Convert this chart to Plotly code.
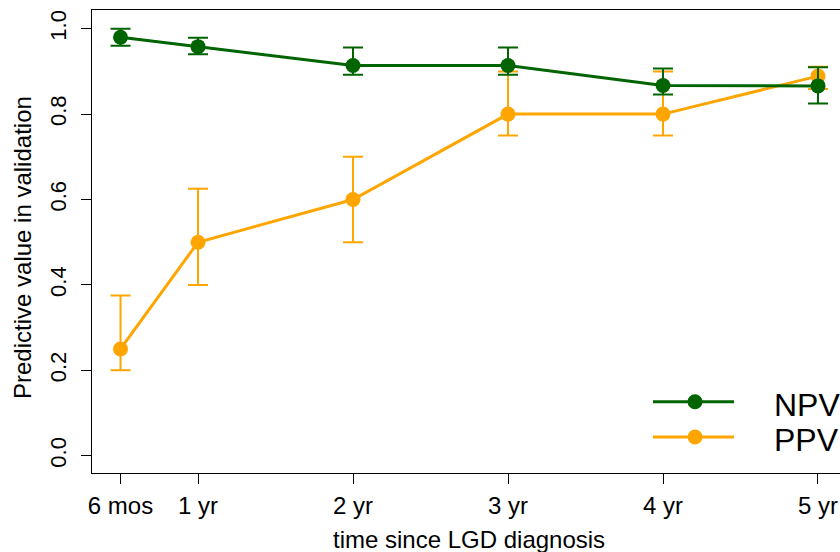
import plotly.graph_objects as go

# ---- data ----
x_vals = [0.5, 1, 2, 3, 4, 5]
x_labels = ["6 mos", "1 yr", "2 yr", "3 yr", "4 yr", "5 yr"]

npv = [0.980, 0.958, 0.914, 0.914, 0.867, 0.866]
npv_lo = [0.960, 0.940, 0.892, 0.892, 0.846, 0.825]
npv_hi = [1.000, 0.979, 0.956, 0.956, 0.907, 0.910]

ppv = [0.250, 0.500, 0.600, 0.800, 0.800, 0.889]
ppv_lo = [0.200, 0.400, 0.500, 0.750, 0.750, 0.859]
ppv_hi = [0.375, 0.625, 0.700, 0.900, 0.900, 0.911]

y_ticks = [0.0, 0.2, 0.4, 0.6, 0.8, 1.0]
y_tick_labels = ["0.0", "0.2", "0.4", "0.6", "0.8", "1.0"]

GREEN = "#006400"
ORANGE = "#FFA500"
FONT = "Liberation Sans, Arial, Helvetica, sans-serif"

W, H = 840, 552
L, R, T, B = 92, 0, 10, 79


def trace(y, lo, hi, color, name):
    return go.Scatter(
        x=x_vals, y=y, mode="lines+markers", name=name,
        line=dict(color=color, width=3),
        marker=dict(color=color, size=15),
        error_y=dict(type="data", symmetric=False,
                     array=[h - v for h, v in zip(hi, y)],
                     arrayminus=[v - l for v, l in zip(y, lo)],
                     color=color, thickness=2, width=10),
        showlegend=False, hoverinfo="skip",
    )


fig = go.Figure()
fig.add_trace(trace(ppv, ppv_lo, ppv_hi, ORANGE, "PPV"))
fig.add_trace(trace(npv, npv_lo, npv_hi, GREEN, "NPV"))

fig.update_layout(
    width=W, height=H,
    margin=dict(l=L, r=R, t=T, b=B, pad=0),
    paper_bgcolor="white", plot_bgcolor="white",
    font=dict(family=FONT, color="black", size=22),
    xaxis=dict(
        range=[0.316, 5.142], tickmode="array", tickvals=x_vals, ticktext=x_labels,
        showgrid=False, zeroline=False, showline=True, linecolor="black", linewidth=1,
        mirror=True, ticks="outside", ticklen=10, tickcolor="black", tickwidth=1,
        tickfont=dict(size=24), ticklabelstandoff=1,
    ),
    yaxis=dict(
        range=[-0.0405, 1.0438], tickmode="array", tickvals=y_ticks, ticktext=y_tick_labels,
        showgrid=False, zeroline=False, showline=True, linecolor="black", linewidth=1,
        ticks="outside", ticklen=10, tickcolor="black", tickwidth=1,
        tickangle=-90, tickfont=dict(size=22), ticklabelstandoff=6,
    ),
)

pw = W - L - R
ph = H - T - B


def px_x(p):
    return (p - L) / pw


def px_y(p):
    return 1 - (p - T) / ph


# axis titles
fig.add_annotation(text="time since LGD diagnosis", xref="paper", yref="paper",
                   x=px_x(469), y=px_y(539), showarrow=False,
                   font=dict(size=24), xanchor="center", yanchor="middle")
fig.add_annotation(text="Predictive value in validation", xref="paper", yref="paper",
                   x=px_x(22), y=px_y(248), showarrow=False, textangle=-90,
                   font=dict(size=24), xanchor="center", yanchor="middle")

# legend (manual, R style)
for name, color, ly in [("NPV", GREEN, 401.7), ("PPV", ORANGE, 437)]:
    fig.add_shape(type="line", xref="paper", yref="paper",
                  x0=px_x(653), x1=px_x(734), y0=px_y(ly), y1=px_y(ly),
                  line=dict(color=color, width=3))
    fig.add_shape(type="circle", xref="paper", yref="paper",
                  x0=px_x(695 - 7.5), x1=px_x(695 + 7.5),
                  y0=px_y(ly + 7.5), y1=px_y(ly - 7.5),
                  line=dict(color=color, width=0), fillcolor=color)
    fig.add_annotation(text=name, xref="paper", yref="paper",
                       x=px_x(772), y=px_y(ly + 3), showarrow=False,
                       xanchor="left", yanchor="middle", font=dict(size=32))

fig.write_html(
    "out.html",
    config={"displayModeBar": False},
    post_script="document.body.style.margin='0';document.body.style.overflow='hidden';",
)
